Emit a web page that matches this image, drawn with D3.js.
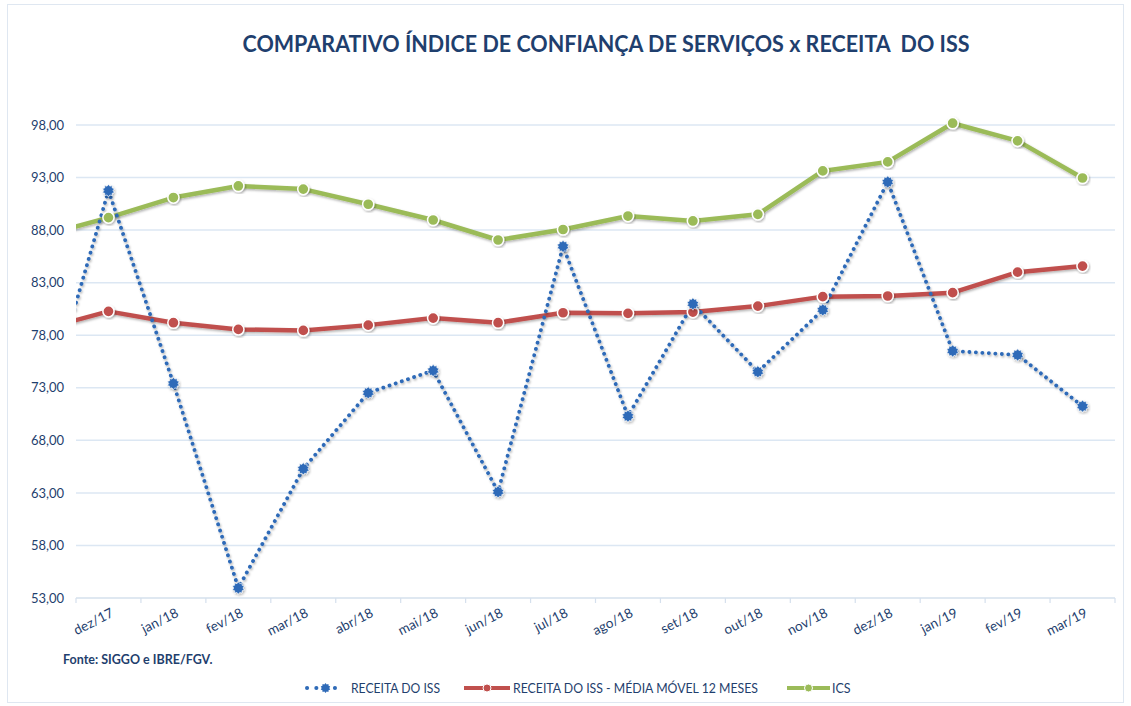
<!DOCTYPE html>
<html>
<head>
<meta charset="utf-8">
<script src="https://cdn.jsdelivr.net/npm/d3@7"></script>
<style>
  html, body { margin: 0; padding: 0; background: #ffffff; }
  svg { display: block; font-family: Lato, "Open Sans", "Liberation Sans", sans-serif; }
</style>
</head>
<body>
<svg id="chart" width="1131" height="706"></svg>
<script>
// Months; the first one (nov/17) only feeds the line segment entering the plot from the left.
const months = ["nov/17", "dez/17", "jan/18", "fev/18", "mar/18", "abr/18", "mai/18", "jun/18",
  "jul/18", "ago/18", "set/18", "out/18", "nov/18", "dez/18", "jan/19", "fev/19", "mar/19"];

// Receita do ISS (index)
const receitaISS = [70.4, 91.76, 73.41, 53.95, 65.29, 72.52, 74.64, 63.1,
  86.45, 70.3, 80.98, 74.52, 80.41, 92.58, 76.5, 76.12, 71.25];

// Receita do ISS - média móvel 12 meses
const mediaMovel = [78.6, 80.27, 79.19, 78.55, 78.46, 78.96, 79.63, 79.19,
  80.14, 80.08, 80.2, 80.77, 81.67, 81.73, 82.05, 84.0, 84.58];

// Índice de Confiança de Serviços
const ics = [87.5, 89.19, 91.1, 92.2, 91.9, 90.46, 88.96, 87.06,
  88.06, 89.34, 88.87, 89.5, 93.63, 94.49, 98.17, 96.49, 92.96];

const yTicks = [53, 58, 63, 68, 73, 78, 83, 88, 93, 98];

const titleText = "COMPARATIVO ÍNDICE DE CONFIANÇA DE SERVIÇOS x RECEITA  DO ISS";
const sourceText = "Fonte: SIGGO e IBRE/FGV.";
const legendLabels = ["RECEITA DO ISS", "RECEITA DO ISS - MÉDIA MÓVEL 12 MESES", "ICS"];

const navy = "#1f3f6e";
const blue = "#2f6bb8";
const red = "#c0504d";
const green = "#9bbb59";
const gridColor = "#dce7f3";

const svg = d3.select("#chart");
const W = 1131, H = 706;
const plot = { left: 76, right: 1115, top: 125, bottom: 598 };
const step = (plot.right - plot.left) / (months.length - 1);

const x = d3.scalePoint()
  .domain(months)
  .range([plot.left - step / 2, plot.right - step / 2]);
const y = d3.scaleLinear().domain([53, 98]).range([plot.bottom, plot.top]);

const defs = svg.append("defs");
defs.append("clipPath").attr("id", "plotClip")
  .append("rect")
  .attr("x", plot.left).attr("y", 0)
  .attr("width", plot.right - plot.left).attr("height", H);
const shadow = defs.append("filter").attr("id", "shadow")
  .attr("x", "-20%").attr("y", "-20%").attr("width", "140%").attr("height", "140%");
shadow.append("feDropShadow")
  .attr("dx", 1).attr("dy", 1.5).attr("stdDeviation", 1.1)
  .attr("flood-color", "#000").attr("flood-opacity", 0.3);

// Outer frame
svg.append("rect")
  .attr("x", 7.5).attr("y", 4.5).attr("width", W - 15).attr("height", H - 8)
  .attr("fill", "#fff").attr("stroke", "#dfe7f1").attr("stroke-width", 1);

// Title
svg.append("text")
  .attr("x", 606).attr("y", 52)
  .attr("text-anchor", "middle")
  .attr("fill", navy)
  .attr("font-size", 22).attr("font-weight", 700)
  .attr("textLength", 727).attr("lengthAdjust", "spacingAndGlyphs")
  .style("white-space", "pre")
  .text(titleText);

// Horizontal gridlines
svg.append("g").selectAll("line")
  .data(yTicks.slice(1))
  .join("line")
  .attr("x1", plot.left).attr("x2", plot.right)
  .attr("y1", d => y(d)).attr("y2", d => y(d))
  .attr("stroke", gridColor).attr("stroke-width", 1.5);

// Y axis labels
const fmt = d => d3.format(".2f")(d).replace(".", ",");
const yAxis = svg.append("g")
  .attr("transform", `translate(${plot.left - 10},0)`)
  .call(d3.axisLeft(y).tickValues(yTicks).tickFormat(fmt).tickSize(0).tickPadding(2));
yAxis.select(".domain").remove();
yAxis.selectAll("text")
  .attr("fill", navy).attr("font-size", 13).attr("font-family", "Lato, sans-serif");

// X axis: baseline, tick marks between months, rotated labels
const visible = months.slice(1);
const xAxis = svg.append("g").attr("transform", `translate(0,${plot.bottom})`);
xAxis.append("line")
  .attr("x1", plot.left).attr("x2", plot.right)
  .attr("stroke", "#d5e0ed").attr("stroke-width", 1.5);
xAxis.selectAll("line.tick")
  .data(d3.range(visible.length + 1))
  .join("line").attr("class", "tick")
  .attr("x1", i => plot.left + i * step).attr("x2", i => plot.left + i * step)
  .attr("y1", 0).attr("y2", 5)
  .attr("stroke", "#d5e0ed").attr("stroke-width", 1.2);
xAxis.selectAll("text")
  .data(visible)
  .join("text")
  .attr("transform", d => `translate(${x(d) + 6},${18}) rotate(-27)`)
  .attr("text-anchor", "end")
  .attr("fill", navy)
  .attr("font-size", 13.5)
  .text(d => d);

// Series
const line = d3.line().x((d, i) => x(months[i])).y(d => y(d));
const lines = svg.append("g").attr("clip-path", "url(#plotClip)");

lines.append("path")
  .datum(ics)
  .attr("d", line)
  .attr("fill", "none").attr("stroke", green).attr("stroke-width", 4.5)
  .attr("stroke-linejoin", "round").attr("filter", "url(#shadow)");

lines.append("path")
  .datum(mediaMovel)
  .attr("d", line)
  .attr("fill", "none").attr("stroke", red).attr("stroke-width", 4.5)
  .attr("stroke-linejoin", "round").attr("filter", "url(#shadow)");

lines.append("path")
  .datum(receitaISS)
  .attr("d", line)
  .attr("fill", "none").attr("stroke", blue).attr("stroke-width", 3.8)
  .attr("stroke-linecap", "round").attr("stroke-dasharray", "0.1 6.4")
  .attr("filter", "url(#shadow)");

// Markers (visible months only)
const idx = d3.range(1, months.length);

function circleMarkers(values, color) {
  svg.append("g").selectAll("circle")
    .data(idx)
    .join("circle")
    .attr("cx", i => x(months[i])).attr("cy", i => y(values[i]))
    .attr("r", 5.6)
    .attr("fill", color).attr("stroke", "#fff").attr("stroke-width", 1.5)
    .attr("filter", "url(#shadow)");
}
circleMarkers(ics, green);
circleMarkers(mediaMovel, red);

// Gear-shaped marker for the dotted series
function gearPath(r1, r2, n) {
  const pts = [];
  for (let k = 0; k < n * 2; k++) {
    const a = (Math.PI * k) / n;
    const r = k % 2 === 0 ? r1 : r2;
    pts.push([r * Math.sin(a), -r * Math.cos(a)]);
  }
  return "M" + pts.map(p => p.join(",")).join("L") + "Z";
}
const gear = gearPath(6.2, 4.6, 10);
svg.append("g").selectAll("path")
  .data(idx)
  .join("path")
  .attr("transform", i => `translate(${x(months[i])},${y(receitaISS[i])})`)
  .attr("d", gear)
  .attr("fill", blue).attr("stroke", "#ffffff").attr("stroke-width", 0.6)
  .attr("filter", "url(#shadow)");

// Source note
svg.append("text")
  .attr("x", 63).attr("y", 664)
  .attr("fill", navy).attr("font-size", 12.5).attr("font-weight", 700)
  .text(sourceText);

// Legend
const legendY = 688;
const lg = svg.append("g");
// dotted series
lg.append("line")
  .attr("x1", 307).attr("x2", 344).attr("y1", legendY).attr("y2", legendY)
  .attr("stroke", blue).attr("stroke-width", 4)
  .attr("stroke-linecap", "round").attr("stroke-dasharray", "0.1 9.2");
lg.append("path")
  .attr("transform", `translate(325.5,${legendY})`)
  .attr("d", gearPath(5, 3.8, 10)).attr("fill", blue);
lg.append("text").attr("x", 351).attr("y", legendY + 4.5)
  .attr("fill", navy).attr("font-size", 12.5)
  .attr("textLength", 89).attr("lengthAdjust", "spacingAndGlyphs")
  .text(legendLabels[0]);
// moving average
lg.append("line")
  .attr("x1", 464).attr("x2", 510).attr("y1", legendY).attr("y2", legendY)
  .attr("stroke", red).attr("stroke-width", 4);
lg.append("circle").attr("cx", 487).attr("cy", legendY).attr("r", 4)
  .attr("fill", red).attr("stroke", "#fff").attr("stroke-width", 1);
lg.append("text").attr("x", 513).attr("y", legendY + 4.5)
  .attr("fill", navy).attr("font-size", 12.5)
  .attr("textLength", 245).attr("lengthAdjust", "spacingAndGlyphs")
  .text(legendLabels[1]);
// ICS
lg.append("line")
  .attr("x1", 787).attr("x2", 830).attr("y1", legendY).attr("y2", legendY)
  .attr("stroke", green).attr("stroke-width", 4);
lg.append("circle").attr("cx", 808.5).attr("cy", legendY).attr("r", 4)
  .attr("fill", green).attr("stroke", "#fff").attr("stroke-width", 1);
lg.append("text").attr("x", 832).attr("y", legendY + 4.5)
  .attr("fill", navy).attr("font-size", 12.5)
  .text(legendLabels[2]);
</script>
</body>
</html>
